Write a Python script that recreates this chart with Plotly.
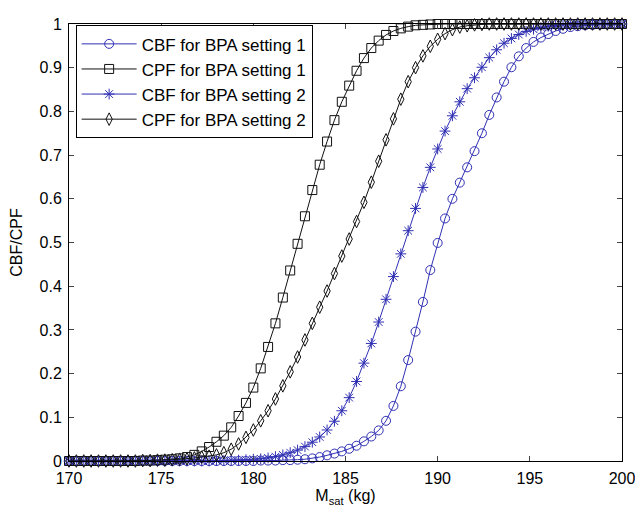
import numpy as np
import plotly.graph_objects as go

# sample grid (kg)
m_sat = np.round(np.linspace(170, 200, 76), 1)

cbf_bpa1 = [
    0, 0, 0, 0, 0, 0, 0, 0, 0, 0,
    0, 0, 0, 0, 0, 0, 0, 0, 0, 0,
    0, 0, 0, 0, 0, 0, 0.001, 0.001, 0.001, 0.002,
    0.002, 0.003, 0.004, 0.006, 0.009, 0.013, 0.017, 0.022, 0.028, 0.035,
    0.045, 0.056, 0.070, 0.092, 0.126, 0.171, 0.231, 0.296, 0.364, 0.437,
    0.499, 0.555, 0.600, 0.637, 0.672, 0.709, 0.750, 0.792, 0.832, 0.868,
    0.901, 0.926, 0.945, 0.959, 0.969, 0.977, 0.984, 0.989, 0.993, 0.995,
    0.997, 0.998, 0.999, 1, 1, 1]

cpf_bpa1 = [
    0, 0, 0, 0, 0, 0, 0, 0, 0, 0,
    0.001, 0.001, 0.002, 0.003, 0.004, 0.006, 0.009, 0.014, 0.022, 0.032,
    0.044, 0.058, 0.077, 0.103, 0.133, 0.168, 0.212, 0.261, 0.315, 0.374,
    0.436, 0.497, 0.560, 0.620, 0.678, 0.731, 0.780, 0.822, 0.859, 0.893,
    0.922, 0.945, 0.962, 0.975, 0.984, 0.990, 0.994, 0.997, 0.998, 0.999,
    1, 1, 1, 1, 1, 1, 1, 1, 1, 1,
    1, 1, 1, 1, 1, 1, 1, 1, 1, 1,
    1, 1, 1, 1, 1, 1]

cbf_bpa2 = [
    0, 0, 0, 0, 0, 0, 0, 0, 0, 0,
    0, 0, 0, 0, 0, 0, 0, 0, 0, 0,
    0.001, 0.001, 0.002, 0.002, 0.003, 0.004, 0.005, 0.007, 0.010, 0.014,
    0.019, 0.025, 0.033, 0.043, 0.055, 0.071, 0.091, 0.115, 0.145, 0.182,
    0.224, 0.269, 0.318, 0.370, 0.422, 0.474, 0.527, 0.578, 0.626, 0.672,
    0.714, 0.755, 0.790, 0.822, 0.852, 0.877, 0.901, 0.923, 0.941, 0.956,
    0.967, 0.976, 0.983, 0.988, 0.992, 0.995, 0.997, 0.998, 0.999, 1,
    1, 1, 1, 1, 1, 1]

cpf_bpa2 = [
    0, 0, 0, 0, 0, 0, 0, 0, 0, 0,
    0.001, 0.001, 0.002, 0.002, 0.003, 0.004, 0.005, 0.007, 0.009, 0.011,
    0.014, 0.019, 0.027, 0.039, 0.054, 0.071, 0.092, 0.115, 0.142, 0.172,
    0.204, 0.238, 0.277, 0.315, 0.352, 0.389, 0.429, 0.469, 0.508, 0.548,
    0.592, 0.638, 0.686, 0.735, 0.783, 0.828, 0.868, 0.900, 0.927, 0.949,
    0.965, 0.978, 0.987, 0.993, 0.996, 0.998, 0.999, 1, 1, 1,
    1, 1, 1, 1, 1, 1, 1, 1, 1, 1,
    1, 1, 1, 1, 1, 1]

series_names = ["CBF for BPA setting 1", "CPF for BPA setting 1",
                "CBF for BPA setting 2", "CPF for BPA setting 2"]

x_ticks = [170, 175, 180, 185, 190, 195, 200]
y_ticks = [0, 0.1, 0.2, 0.3, 0.4, 0.5, 0.6, 0.7, 0.8, 0.9, 1]
y_tick_text = ["0", "0.1", "0.2", "0.3", "0.4", "0.5", "0.6", "0.7", "0.8", "0.9", "1"]

BLUE = "#3030b4"
BLACK = "#111111"
FONT = "Liberation Sans, Arial, sans-serif"

styles = [
    dict(color=BLUE, symbol="circle-open", size=9),
    dict(color=BLACK, symbol="square-open", size=9),
    dict(color=BLUE, symbol="asterisk-open", size=9),
    dict(color=BLACK, symbol="diamond-tall-open", size=9),
]

fig = go.Figure()
for name, ys, st in zip(series_names, [cbf_bpa1, cpf_bpa1, cbf_bpa2, cpf_bpa2], styles):
    fig.add_trace(go.Scatter(
        x=m_sat, y=ys, name=name, mode="lines+markers",
        line=dict(color=st["color"], width=1),
        marker=dict(symbol=st["symbol"], size=st["size"], color=st["color"],
                    line=dict(color=st["color"], width=1)),
        cliponaxis=False,
    ))

# the page body adds an 8px offset; compensate so the plot area lands at
# x 63..628, y 16..461 in the 643x509 window
fig.update_layout(
    width=635, height=501,
    margin=dict(l=55, r=15, t=8, b=48),
    paper_bgcolor="white", plot_bgcolor="white",
    font=dict(family=FONT, size=16, color="black"),
    showlegend=True,
    legend=dict(x=0.012, y=0.997, xanchor="left", yanchor="top",
                bgcolor="white", bordercolor="black", borderwidth=1,
                font=dict(size=17, family=FONT), tracegroupgap=0,
                itemwidth=55),
)
fig.update_xaxes(
    range=[170, 200], tickvals=x_ticks, ticks="inside", ticklen=5,
    showline=True, linecolor="black", linewidth=1, mirror="ticks",
    showgrid=False, zeroline=False,
    tickfont=dict(size=16, family=FONT),
    ticklabelstandoff=3,
    title=dict(text="M<sub>sat</sub> (kg)", font=dict(size=16, family=FONT), standoff=3),
)
fig.update_yaxes(
    range=[0, 1], tickvals=y_ticks, ticktext=y_tick_text, ticks="inside", ticklen=5,
    showline=True, linecolor="black", linewidth=1, mirror="ticks",
    showgrid=False, zeroline=False,
    tickfont=dict(size=16, family=FONT),
    ticklabelstandoff=3,
    title=dict(text="CBF/CPF", font=dict(size=16, family=FONT), standoff=12),
)

fig.write_html("out.html")
